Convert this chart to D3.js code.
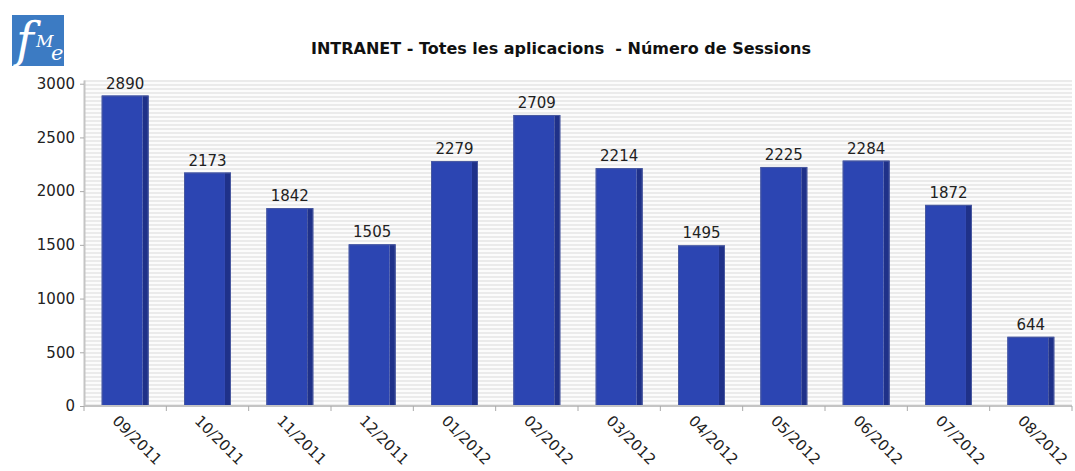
<!DOCTYPE html>
<html>
<head>
<meta charset="utf-8">
<script src="https://cdn.jsdelivr.net/npm/d3@7"></script>
<style>
  body { margin: 0; background: #fff; }
  svg { display: block; font-family: "DejaVu Sans", sans-serif; }
</style>
</head>
<body>
<svg id="chart" width="1075" height="471"></svg>
<script>
// data
let months = ['09/2011', '10/2011', '11/2011', '12/2011', '01/2012', '02/2012',
  '03/2012', '04/2012', '05/2012', '06/2012', '07/2012', '08/2012'];
let sessions = [2890, 2173, 1842, 1505, 2279, 2709, 2214, 1495, 2225, 2284, 1872, 644];
let yTicks = [0, 500, 1000, 1500, 2000, 2500, 3000];
let title = 'INTRANET - Totes les aplicacions  - Número de Sessions';

let svg = d3.select('#chart');

let plot = { left: 84, right: 1072, top: 80, bottom: 406 };

let x = d3.scaleBand()
  .domain(months)
  .range([plot.left, plot.right])
  .paddingInner(0.43)
  .paddingOuter(0.215);

// upper margin like the original (max + 5%)
let y = d3.scaleLinear()
  .domain([0, d3.max(sessions) * 1.05])
  .range([plot.bottom, plot.top]);

// striped background
let defs = svg.append('defs');
let pat = defs.append('pattern')
  .attr('id', 'stripes')
  .attr('patternUnits', 'userSpaceOnUse')
  .attr('width', 8).attr('height', 4);
pat.append('rect').attr('width', 8).attr('height', 4).attr('fill', '#fcfcfc');
pat.append('rect').attr('width', 8).attr('height', 2).attr('fill', '#ebebeb');

svg.append('rect')
  .attr('x', plot.left).attr('y', plot.top)
  .attr('width', plot.right - plot.left)
  .attr('height', plot.bottom - plot.top)
  .attr('fill', 'url(#stripes)');

// logo
let logo = svg.append('g').attr('transform', 'translate(12,15)');
logo.append('rect').attr('width', 52).attr('height', 51).attr('fill', '#3c7bc3');
logo.append('text')
  .attr('x', 4).attr('y', 42)
  .attr('fill', '#fff')
  .style('font-family', '"DejaVu Serif", serif')
  .style('font-style', 'italic')
  .style('font-size', '48px')
  .text('f');
logo.append('text')
  .attr('x', 24).attr('y', 32)
  .attr('fill', '#fff')
  .style('font-family', '"DejaVu Serif", serif')
  .style('font-style', 'italic')
  .style('font-size', '17px')
  .text('M');
logo.append('text')
  .attr('x', 39).attr('y', 45)
  .attr('fill', '#fff')
  .style('font-family', '"DejaVu Serif", serif')
  .style('font-style', 'italic')
  .style('font-size', '21px')
  .text('e');

// title
svg.append('text')
  .attr('x', 561).attr('y', 54)
  .attr('text-anchor', 'middle')
  .style('font-weight', 'bold')
  .style('font-size', '16px')
  .style('white-space', 'pre')
  .attr('fill', '#111')
  .text(title);

// bars
let side = 6;
let bars = svg.append('g');
bars.selectAll('rect.front')
  .data(sessions)
  .join('rect')
  .attr('class', 'front')
  .attr('x', (d, i) => x(months[i]))
  .attr('y', d => y(d))
  .attr('width', x.bandwidth() - side)
  .attr('height', d => y(0) - y(d))
  .attr('fill', '#2c45b2');
bars.selectAll('rect.side')
  .data(sessions)
  .join('rect')
  .attr('class', 'side')
  .attr('x', (d, i) => x(months[i]) + x.bandwidth() - side)
  .attr('y', d => y(d))
  .attr('width', side)
  .attr('height', d => y(0) - y(d))
  .attr('fill', '#1f3189');
bars.selectAll('rect.outline')
  .data(sessions)
  .join('rect')
  .attr('class', 'outline')
  .attr('x', (d, i) => x(months[i]) + 0.5)
  .attr('y', d => y(d) + 0.5)
  .attr('width', x.bandwidth() - 1)
  .attr('height', d => y(0) - y(d) - 1)
  .attr('fill', 'none')
  .attr('stroke', '#4a5aa0')
  .attr('stroke-width', 1);

// value labels
svg.append('g').selectAll('text')
  .data(sessions)
  .join('text')
  .attr('x', (d, i) => x(months[i]) + x.bandwidth() / 2)
  .attr('y', d => y(d) - 7)
  .attr('text-anchor', 'middle')
  .style('font-size', '15px')
  .attr('fill', '#222')
  .text(d => d);

// y axis
let yAxis = svg.append('g')
  .attr('transform', `translate(${plot.left},0)`)
  .call(d3.axisLeft(y).tickValues(yTicks).tickFormat(d3.format('d'))
    .tickSize(4).tickPadding(5).tickSizeOuter(0));
yAxis.select('.domain').attr('stroke', '#c4c4c4').attr('stroke-width', 2);
yAxis.selectAll('.tick line').attr('stroke', '#aaa');
yAxis.selectAll('.tick text')
  .style('font-size', '15px')
  .style('font-family', '"DejaVu Sans", sans-serif')
  .attr('fill', '#222');

// x axis: ticks on category boundaries
let xg = svg.append('g').attr('transform', `translate(0,${plot.bottom})`);
xg.append('line')
  .attr('x1', plot.left).attr('x2', plot.right)
  .attr('stroke', '#c4c4c4').attr('stroke-width', 2);
let step = x.step();
let bounds = d3.range(months.length + 1).map(i => plot.left + i * step);
xg.selectAll('line.tk')
  .data(bounds)
  .join('line')
  .attr('class', 'tk')
  .attr('x1', d => d).attr('x2', d => d)
  .attr('y1', 0).attr('y2', 5)
  .attr('stroke', '#aaa');
xg.selectAll('text')
  .data(months)
  .join('text')
  .attr('transform', d => `translate(${x(d) + x.bandwidth() / 2 - 10},${12}) rotate(45)`)
  .attr('text-anchor', 'start')
  .attr('dy', '0.35em')
  .style('font-size', '15px')
  .attr('fill', '#222')
  .text(d => d);
</script>
</body>
</html>
